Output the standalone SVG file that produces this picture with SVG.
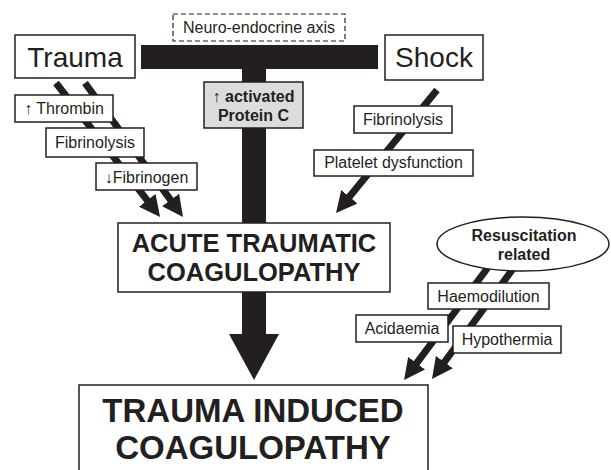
<svg xmlns="http://www.w3.org/2000/svg" width="611" height="470" viewBox="0 0 611 470">
<defs>
<style>
.box{fill:#fff;stroke:#231f20;stroke-width:1.5}
.t{font-family:"Liberation Sans",Arial,sans-serif;fill:#231f20}
.s{font-size:16px}
.b{font-weight:bold}
.c{stroke:#231f20;stroke-width:7;fill:none}
</style>
<marker id="ah" viewBox="0 0 10 10" refX="2" refY="5" markerWidth="3" markerHeight="3" orient="auto" markerUnits="strokeWidth">
<path d="M0,0 L10,5 L0,10 z" fill="#231f20"/>
</marker>
</defs>
<rect width="611" height="470" fill="#fff"/>
<g id="connectors">
<rect x="141" y="45" width="237" height="24" fill="#231f20"/>
<rect x="242" y="69" width="24" height="266" fill="#231f20"/>
<polygon points="229,334 279,334 254,380" fill="#231f20"/>
<line class="c" x1="56" y1="83" x2="149.8" y2="203.7" marker-end="url(#ah)"/>
<line class="c" x1="85" y1="83" x2="173.1" y2="203.4" marker-end="url(#ah)"/>
<line class="c" x1="437" y1="90" x2="346.7" y2="200" marker-end="url(#ah)"/>
<line class="c" x1="489" y1="266" x2="414.1" y2="366.6" marker-end="url(#ah)"/>
<line class="c" x1="515" y1="266" x2="441.9" y2="365.5" marker-end="url(#ah)"/>
</g>
<g id="neuro">
<rect x="173" y="14" width="172" height="27" fill="#fff" stroke="#231f20" stroke-width="1.2" stroke-dasharray="5,3"/>
<text class="t s" x="259" y="33" text-anchor="middle">Neuro-endocrine axis</text>
</g>
<g id="trauma">
<rect class="box" x="15" y="35" width="120" height="43"/>
<text class="t" x="75" y="67" font-size="28" text-anchor="middle">Trauma</text>
</g>
<g id="shock">
<rect class="box" x="385" y="35" width="98" height="45"/>
<text class="t" x="434" y="67" font-size="28" text-anchor="middle">Shock</text>
</g>
<g id="proteinc">
<rect x="204" y="82" width="99" height="46" fill="#dcdcdc" stroke="#231f20" stroke-width="1.5"/>
<text class="t s b" x="253.5" y="102" text-anchor="middle">↑ activated</text>
<text class="t s b" x="253.5" y="121" text-anchor="middle">Protein C</text>
</g>
<g id="thrombin">
<rect class="box" x="15" y="95" width="98" height="27"/>
<text class="t s" x="64" y="114" text-anchor="middle">↑ Thrombin</text>
</g>
<g id="fibrinolysis1">
<rect class="box" x="46" y="128" width="98" height="29"/>
<text class="t s" x="95" y="148" text-anchor="middle">Fibrinolysis</text>
</g>
<g id="fibrinogen">
<rect class="box" x="96" y="163" width="101" height="27"/>
<text class="t s" x="146.5" y="183" text-anchor="middle">↓Fibrinogen</text>
</g>
<g id="fibrinolysis2">
<rect class="box" x="354" y="106" width="98" height="27"/>
<text class="t s" x="403" y="125" text-anchor="middle">Fibrinolysis</text>
</g>
<g id="platelet">
<rect class="box" x="314" y="150" width="159" height="26"/>
<text class="t s" x="393.5" y="168" text-anchor="middle">Platelet dysfunction</text>
</g>
<g id="atc">
<rect class="box" x="118" y="223" width="272" height="69"/>
<text class="t b" x="254" y="252" font-size="25.5" text-anchor="middle">ACUTE TRAUMATIC</text>
<text class="t b" x="254" y="281" font-size="25.5" text-anchor="middle">COAGULOPATHY</text>
</g>
<g id="resuscitation">
<ellipse cx="523" cy="244" rx="86" ry="27" fill="#fff" stroke="#231f20" stroke-width="1.5"/>
<text class="t s b" x="524" y="241" text-anchor="middle">Resuscitation</text>
<text class="t s b" x="524" y="260" text-anchor="middle">related</text>
</g>
<g id="haemodilution">
<rect class="box" x="428" y="283" width="121" height="26"/>
<text class="t s" x="488.5" y="302" text-anchor="middle">Haemodilution</text>
</g>
<g id="acidaemia">
<rect class="box" x="356" y="315" width="92" height="27"/>
<text class="t s" x="402" y="334" text-anchor="middle">Acidaemia</text>
</g>
<g id="hypothermia">
<rect class="box" x="453" y="326" width="108" height="27"/>
<text class="t s" x="507" y="345" text-anchor="middle">Hypothermia</text>
</g>
<g id="tic">
<rect class="box" x="79" y="385" width="349" height="95"/>
<text class="t b" x="253" y="422" font-size="33" text-anchor="middle">TRAUMA INDUCED</text>
<text class="t b" x="253" y="459" font-size="33" text-anchor="middle">COAGULOPATHY</text>
</g>
</svg>
